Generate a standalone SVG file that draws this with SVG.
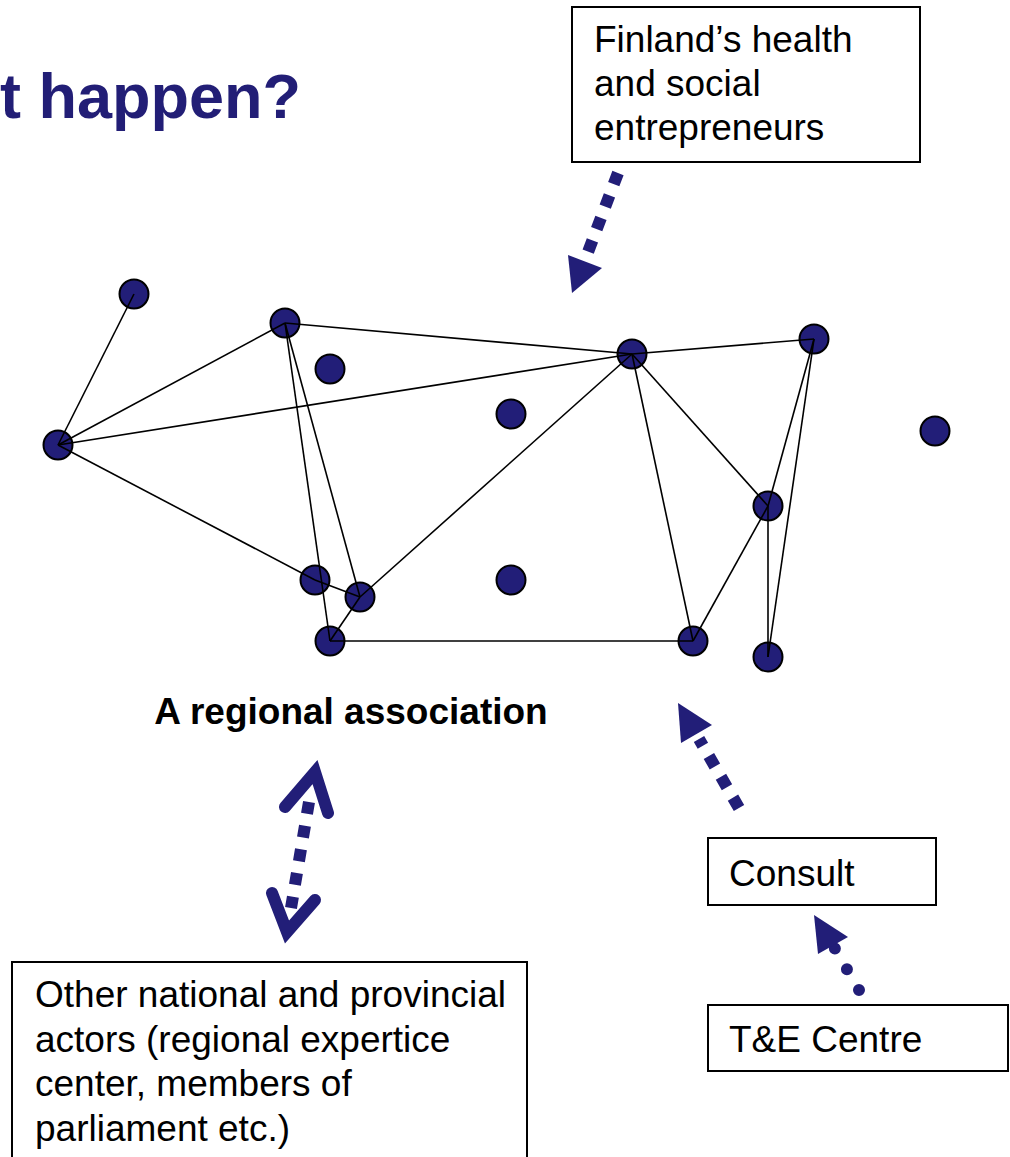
<svg xmlns="http://www.w3.org/2000/svg" width="1010" height="1157" viewBox="0 0 1010 1157">
<style>
text{font-family:"Liberation Sans",Arial,sans-serif;fill:#000}
.title{font-weight:bold;font-size:63px;fill:#221e76}
.lbl{font-size:37px}
.bold{font-weight:bold;font-size:37px}
.box{fill:#fff;stroke:#000;stroke-width:2}
.node{fill:#221e78;stroke:#000;stroke-width:2}
.edge{stroke:#000;stroke-width:1.6;fill:none}
.dash{stroke:#221e78;stroke-width:12;fill:none;stroke-dasharray:12 12}
.dots{stroke:#221e78;stroke-width:12;fill:none;stroke-linecap:round;stroke-dasharray:0 24}
.head{fill:#221e78;stroke:none}
.chev{stroke:#221e78;stroke-width:12;fill:none;stroke-linecap:round;stroke-linejoin:miter}
</style>
<rect width="1010" height="1157" fill="#fff"/>
<text class="title" x="0" y="118">t happen?</text>

<g id="box-finland">
<rect class="box" x="572" y="7" width="348" height="155"/>
<text class="lbl" x="594" y="52">Finland’s health</text>
<text class="lbl" x="594" y="96">and social</text>
<text class="lbl" x="594" y="140">entrepreneurs</text>
</g>
<g id="box-other">
<rect class="box" x="12" y="962" width="515" height="210"/>
<text class="lbl" x="35" y="1007">Other national and provincial</text>
<text class="lbl" x="35" y="1052">actors (regional expertice</text>
<text class="lbl" x="35" y="1096">center, members of</text>
<text class="lbl" x="35" y="1141">parliament etc.)</text>
</g>
<g id="box-consult">
<rect class="box" x="708" y="838" width="228" height="67"/>
<text class="lbl" x="729" y="886">Consult</text>
</g>
<g id="box-te">
<rect class="box" x="708" y="1005" width="300" height="66"/>
<text class="lbl" x="729" y="1052">T&amp;E Centre</text>
</g>
<g id="label-association">
<text class="bold" x="351" y="724" text-anchor="middle">A regional association</text>
</g>

<g id="nodes">
<circle id="nA" class="node" cx="134" cy="294" r="14.5"/>
<circle id="nB" class="node" cx="285" cy="323" r="14.5"/>
<circle id="nC" class="node" cx="330" cy="369" r="14.5"/>
<circle id="nD" class="node" cx="58" cy="445" r="14.5"/>
<circle id="nE" class="node" cx="511" cy="414" r="14.5"/>
<circle id="nF" class="node" cx="632" cy="354" r="14.5"/>
<circle id="nG" class="node" cx="814" cy="339" r="14.5"/>
<circle id="nH" class="node" cx="935" cy="431" r="14.5"/>
<circle id="nI" class="node" cx="768" cy="506" r="14.5"/>
<circle id="nJ" class="node" cx="315" cy="580" r="14.5"/>
<circle id="nK" class="node" cx="360" cy="597" r="14.5"/>
<circle id="nL" class="node" cx="511" cy="580" r="14.5"/>
<circle id="nM" class="node" cx="330" cy="641" r="14.5"/>
<circle id="nN" class="node" cx="693" cy="641" r="14.5"/>
<circle id="nO" class="node" cx="768" cy="657" r="14.5"/>
</g>

<g id="connectors">
<line class="edge" x1="134" y1="294" x2="58" y2="445"/>
<line class="edge" x1="58" y1="445" x2="285" y2="323"/>
<line class="edge" x1="58" y1="445" x2="632" y2="354"/>
<line class="edge" x1="58" y1="445" x2="315" y2="580"/>
<line class="edge" x1="285" y1="323" x2="632" y2="354"/>
<line class="edge" x1="285" y1="323" x2="330" y2="641"/>
<line class="edge" x1="285" y1="323" x2="360" y2="597"/>
<line class="edge" x1="315" y1="580" x2="360" y2="597"/>
<line class="edge" x1="360" y1="597" x2="632" y2="354"/>
<line class="edge" x1="330" y1="641" x2="360" y2="597"/>
<line class="edge" x1="330" y1="641" x2="693" y2="641"/>
<line class="edge" x1="632" y1="354" x2="693" y2="641"/>
<line class="edge" x1="632" y1="354" x2="768" y2="506"/>
<line class="edge" x1="632" y1="354" x2="814" y2="339"/>
<line class="edge" x1="814" y1="339" x2="768" y2="506"/>
<line class="edge" x1="814" y1="339" x2="768" y2="657"/>
<line class="edge" x1="768" y1="506" x2="693" y2="641"/>
<line class="edge" x1="768" y1="506" x2="768" y2="657"/>

<g id="arrow-finland">
<line class="dash" x1="618" y1="173" x2="588" y2="252"/>
<polygon class="head" points="568,255 602,268 572,293"/>
</g>
<g id="arrow-consult">
<line class="dash" x1="739" y1="808" x2="699" y2="739"/>
<polygon class="head" points="678,703 712,725 681,743"/>
</g>
<g id="arrow-te">
<line class="dots" x1="859" y1="990" x2="834" y2="947"/>
<polygon class="head" points="814,915 848,937 818,954"/>
</g>
<g id="arrow-other">
<line class="dash" x1="309" y1="802" x2="291" y2="908"/>
<polyline class="chev" points="285,807 315,772 328,813"/>
<polyline class="chev" points="272,893 287,932 315,900"/>
</g>
</g>
</svg>
